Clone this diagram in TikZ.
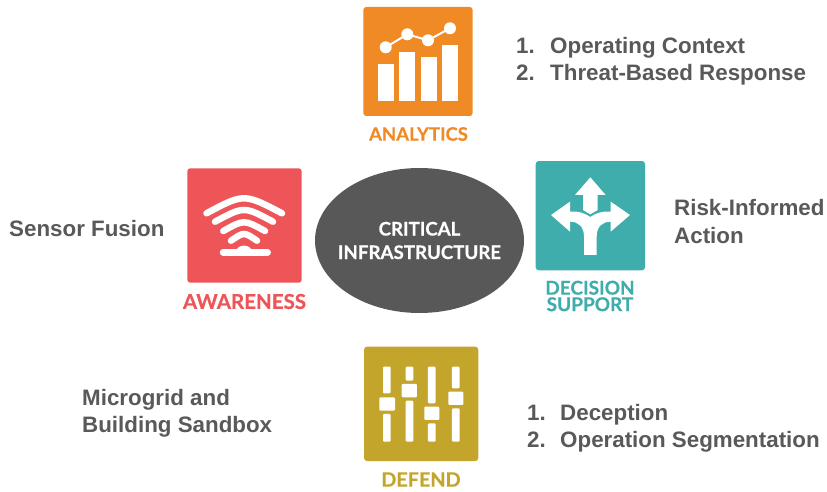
\documentclass[tikz,border=0pt]{standalone}
\usepackage{fontspec}
\usetikzlibrary{shapes.geometric}
\setmainfont{Liberation Sans}
\newfontfamily\iconfont[BoldFeatures={FakeBold=0.5}]{Lato}
\definecolor{txtgrey}{HTML}{595959}
\definecolor{ovalgrey}{HTML}{585858}
\definecolor{cOrange}{HTML}{F08A24}
\definecolor{cRed}{HTML}{EE5558}
\definecolor{cTeal}{HTML}{3FADAB}
\definecolor{cGold}{HTML}{C4A52B}
\tikzset{
  side/.style={anchor=base west,inner sep=0pt,text=txtgrey,font=\fontsize{22.35}{22}\selectfont\bfseries},
  tile/.style={rounded corners=3pt,fill=#1},
  tag/.style={inner sep=0pt,align=center,font=\fontsize{18.5}{19}\iconfont\bfseries},
  wave/.style={draw=white,line width=6.5pt,line cap=round},
  wbar/.style={fill=white,rounded corners=1pt},
}
\begin{document}
\begin{tikzpicture}[x=1pt,y=-1pt]
\useasboundingbox (0,0) rectangle (827,492);
% analytics
\fill[tile=cOrange] (363.3,7) rectangle (472.7,116);
\foreach \a/\b/\t in {378.3/394/64,399.3/415.3/52,420.7/436.7/56.7,442/458/45.3}
  \fill[white] (\a,\t) rectangle (\b,100.7);
\draw[white,line width=2pt] (385.7,47.3) -- (407.3,34.3) -- (428,40.3) -- (450,28.3);
\foreach \x/\y in {385.7/47.3,407.3/34.3,428/40.3,450/28.3}
  \fill[white] (\x,\y) circle (6);
\node[tag,text=cOrange] (analytics) at (418.5,134) {ANALYTICS};
% awareness
\fill[tile=cRed] (187.3,168.3) rectangle (301.7,282.7);
\draw[wave] (206.5,213.3) .. controls (244,193.3) .. (282,213.3);
\draw[wave] (215,221.7) .. controls (244,206.1) .. (273,221.7);
\draw[wave] (223.3,231) .. controls (244,219.4) .. (265,231);
\draw[wave] (231,240.7) .. controls (244,231.8) .. (257,240.7);
\draw[wave] (223,252.3) -- (267.7,252.3);
\fill[white] (235,252) .. controls (238,243.5) and (250,243.5) .. (253,252) -- cycle;
\node[tag,text=cRed,font=\fontsize{20.5}{21}\iconfont\bfseries] (awareness) at (244.5,301.5) {AWARENESS};
% decision support
\fill[tile=cTeal] (535.7,161) rectangle (645,270.3);
\begin{scope}[shift={(525,155)},x=0.3333pt,y=-0.3333pt]
  \fill[white] (196,67) -- (242,120) -- (218,120) -- (218,165) -- (196,178) -- (174,165) -- (174,120) -- (150,120) -- cycle;
  \fill[white] (78,180) -- (135,140) -- (135,170) .. controls (162,168) and (180,175) .. (196,186)
     .. controls (212,175) and (230,168) .. (257,170) -- (257,140) -- (315,180) -- (257,230) -- (257,200)
     .. controls (232,200) and (215,215) .. (215,245) -- (215,300) -- (177,300) -- (177,245)
     .. controls (177,215) and (160,200) .. (135,200) -- (135,230) -- cycle;
\end{scope}
\node[tag,text=cTeal,font=\fontsize{19}{16.5}\iconfont\bfseries] (decision) at (590,296) {DECISION\\SUPPORT};
% defend
\fill[tile=cGold] (364,346.7) rectangle (478.3,461);
\begin{scope}[shift={(355,340)},x=0.3333pt,y=-0.3333pt]
  \foreach \a/\b/\c/\d/\e in {84/107/160/222/305,152/175/122/182/305,219/242/190/250/305,291/314/145/205/305}{
    \fill[wbar] (\a,80) rectangle (\b,\c);
    \fill[wbar] (\a,\d) rectangle (\b,\e);
  }
  \fill[wbar] (73,172) rectangle (120,212);
  \fill[wbar] (140,132) rectangle (186,172);
  \fill[wbar] (208,200) rectangle (253,240);
  \fill[wbar] (280,155) rectangle (325,195);
\end{scope}
\node[tag,text=cGold,font=\fontsize{19.8}{20}\iconfont\bfseries] (defend) at (421,479.5) {DEFEND};
% centre
\node[ellipse,minimum width=209pt,minimum height=145pt,inner sep=0pt,outer sep=0pt,fill=ovalgrey] (core) at (419.5,240.5) {};
\node[inner sep=0pt,text=white,align=center,font=\fontsize{18.7}{23.5}\iconfont\bfseries] (coretext) at (core.center) {CRITICAL\\INFRASTRUCTURE};
% side texts
\node[side] (a1n) at (516,54) {1.};
\node[side] (a1) at (550,54) {Operating Context};
\node[side] (a2n) at (516,81) {2.};
\node[side] (a2) at (550,81) {Threat-Based Response};
\node[side] (sf) at (9,236) {Sensor Fusion};
\node[side] (ri) at (674,215) {Risk-Informed};
\node[side] (ac) at (674,243) {Action};
\node[side] (mg) at (82,405) {Microgrid and};
\node[side] (bs) at (82,432) {Building Sandbox};
\node[side] (d1n) at (527,420) {1.};
\node[side] (d1) at (560,420) {Deception};
\node[side] (d2n) at (527,447) {2.};
\node[side] (d2) at (560,447) {Operation Segmentation};
\end{tikzpicture}
\end{document}
